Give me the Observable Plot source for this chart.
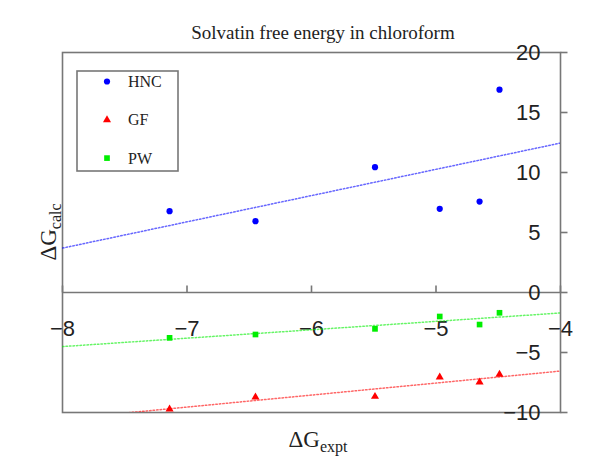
<!DOCTYPE html>
<html><head><meta charset="utf-8">
<script src="https://cdn.jsdelivr.net/npm/d3@7"></script>
<script src="https://cdn.jsdelivr.net/npm/@observablehq/plot@0.6"></script>
<style>body{margin:0;background:#fff}</style>
</head><body><div id="chart"></div>
<script>
const title = "Solvatin free energy in chloroform";
const series = ["HNC", "GF", "PW"];
const xExpt = [-7.14, -6.45, -5.49, -4.97, -4.65, -4.49];
const hnc = [6.78, 5.94, 10.44, 6.97, 7.58, 16.9];
const gf = [-9.72, -8.72, -8.67, -7.06, -7.47, -6.83];
const pw = [-3.78, -3.5, -3.03, -2.0, -2.67, -1.69];
const xTicks = [-8, -7, -6, -5, -4];
const yTicks = [-10, -5, 0, 5, 10, 15, 20];
const xDomain = [-8, -4];
const yDomain = [-10, 20];

const values = {HNC: hnc, GF: gf, PW: pw};
const colors = {HNC: "#0000ff", GF: "#ff0000", PW: "#00ee00"};
const symbols = {HNC: "circle", GF: "triangle", PW: "square"};
const radii = {HNC: 3.1, GF: 3.0, PW: 3.2};

const fmt = d => String(d).replace("-", "\u2212");
const fit = ys => {
  const mx = d3.mean(xExpt), my = d3.mean(ys);
  const b = d3.sum(xExpt, (x, i) => (x - mx) * (ys[i] - my)) / d3.sum(xExpt, x => (x - mx) ** 2);
  return x => my + b * (x - mx);
};
const tickUp = {draw(ctx) { ctx.moveTo(0, 0); ctx.lineTo(0, -7); }};
const tickRight = {draw(ctx) { ctx.moveTo(0, 0); ctx.lineTo(7, 0); }};
const axisColor = "#777";

const marks = [
  Plot.frame({stroke: axisColor, strokeWidth: 1.6}),
  Plot.ruleY([0], {stroke: axisColor, strokeWidth: 1.6}),
  Plot.dot(xTicks, {x: d => d, y: () => 0, symbol: tickUp, stroke: axisColor, strokeWidth: 1.6, fill: "none"}),
  Plot.dot(yTicks, {y: d => d, frameAnchor: "right", symbol: tickRight, stroke: axisColor, strokeWidth: 1.6, fill: "none"}),
  Plot.text(xTicks, {x: d => d, y: () => 0, dy: 36, text: fmt, fontSize: 22, fill: "#222"}),
  Plot.text(yTicks, {y: d => d, frameAnchor: "right", dx: -20, textAnchor: "end", text: fmt, fontSize: 22, fill: "#222"})
];
for (const s of series) {
  const f = fit(values[s]);
  marks.push(Plot.line(xDomain, {x: d => d, y: d => f(d), stroke: colors[s], strokeOpacity: 0.6, strokeWidth: 1.5, strokeDasharray: "1.5,2", clip: true}));
}
for (const s of series) {
  marks.push(Plot.dot(xExpt, {x: d => d, y: (d, i) => values[s][i], symbol: symbols[s], fill: colors[s], r: radii[s]}));
}

const chart = Plot.plot({
  width: 595, height: 461,
  marginLeft: 62, marginRight: 35, marginTop: 52, marginBottom: 49,
  x: {domain: xDomain, axis: null},
  y: {domain: yDomain, axis: null},
  style: {background: "#fff", fontFamily: "'Liberation Sans', Arial, sans-serif", overflow: "visible"},
  marks
});
document.getElementById("chart").appendChild(chart);

const svg = d3.select(chart);
const serif = "'Liberation Serif', 'Times New Roman', serif";
svg.append("text").attr("x", 323).attr("y", 39).attr("text-anchor", "middle")
  .attr("font-family", serif).attr("font-size", 19).attr("fill", "#222").text(title);

const xl = svg.append("text").attr("x", 318).attr("y", 447).attr("text-anchor", "middle")
  .attr("font-family", serif).attr("font-size", 23).attr("fill", "#222");
xl.append("tspan").text("\u0394G");
xl.append("tspan").attr("font-size", 16).attr("dy", 5).text("expt");

const yl = svg.append("text").attr("transform", "translate(56,232) rotate(-90)").attr("text-anchor", "middle")
  .attr("font-family", serif).attr("font-size", 23).attr("fill", "#222");
yl.append("tspan").text("\u0394G");
yl.append("tspan").attr("font-size", 16).attr("dy", 5).text("calc");

const lg = svg.append("g");
lg.append("rect").attr("x", 77).attr("y", 71).attr("width", 101).attr("height", 100)
  .attr("fill", "#fff").attr("stroke", axisColor).attr("stroke-width", 1.6);
const d3sym = {circle: d3.symbolCircle, triangle: d3.symbolTriangle, square: d3.symbolSquare};
series.forEach((s, i) => {
  const cy = 81.5 + i * 38.3;
  lg.append("path").attr("transform", `translate(107,${cy})`)
    .attr("d", d3.symbol(d3sym[symbols[s]], Math.PI * radii[s] ** 2)()).attr("fill", colors[s]);
  lg.append("text").attr("x", 128).attr("y", cy).attr("dy", "0.35em").attr("text-anchor", "start")
    .attr("font-family", serif).attr("font-size", 16).attr("fill", "#222").text(s);
});
</script>
</body></html>
